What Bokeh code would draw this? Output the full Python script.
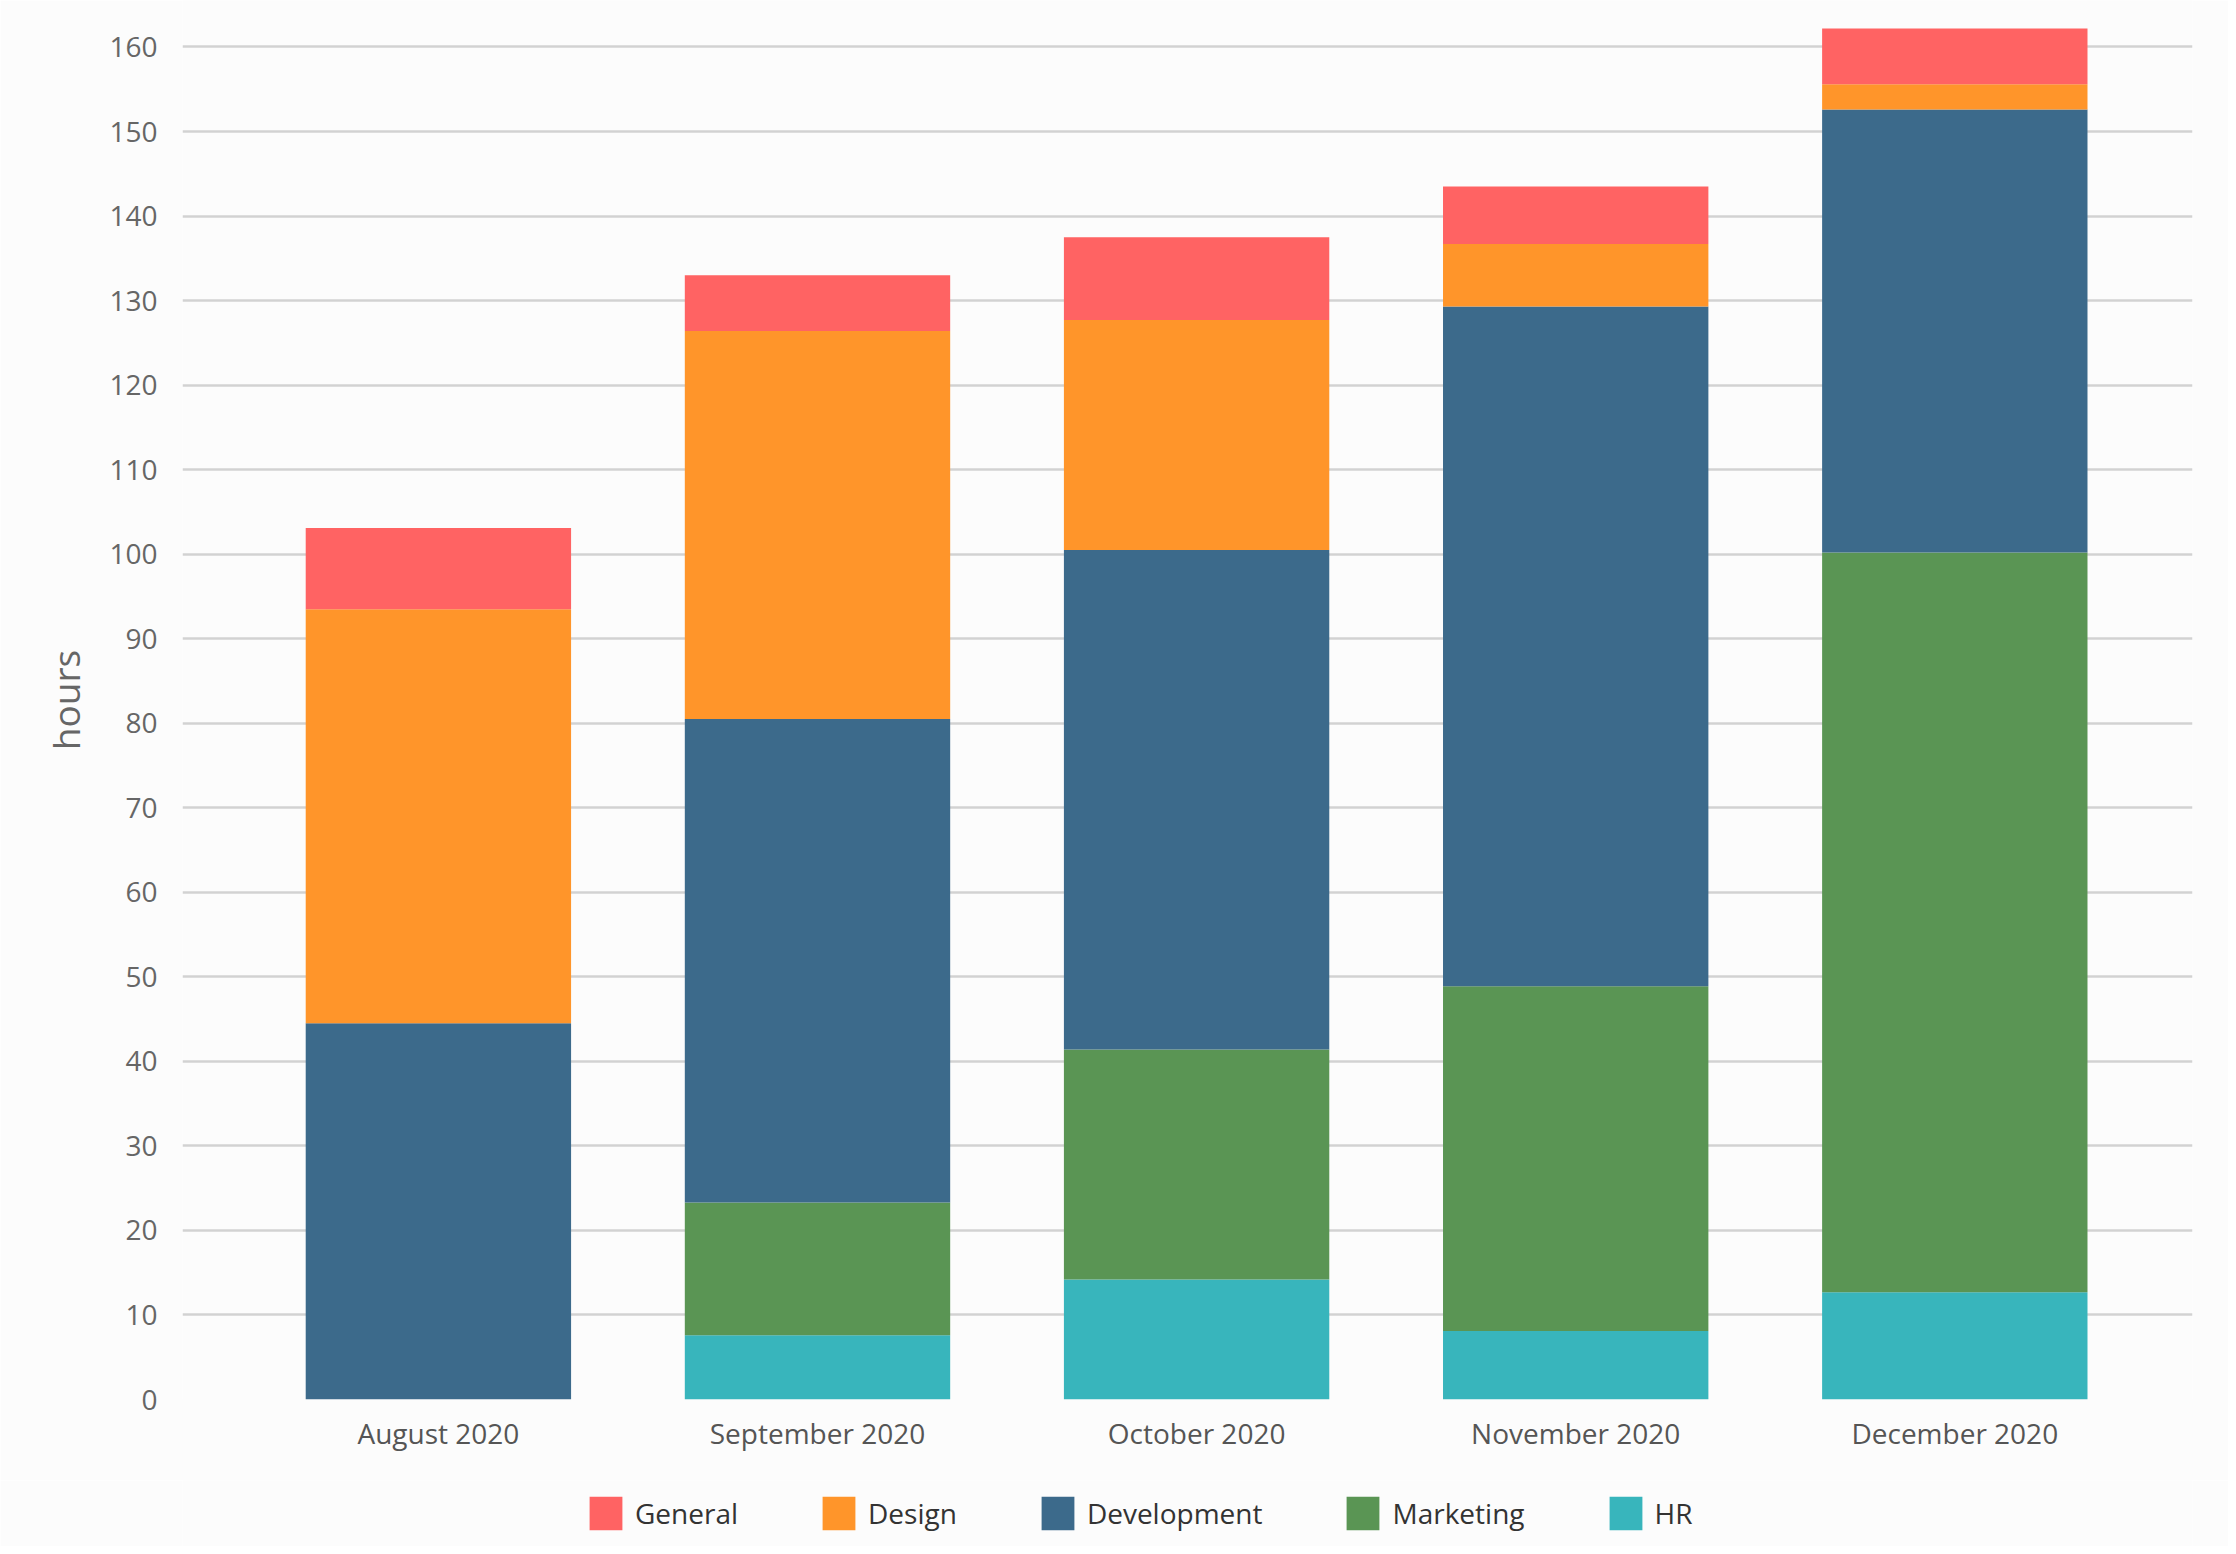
from bokeh.plotting import figure
from bokeh.layouts import column
from bokeh.models import Range1d, FixedTicker, Legend, LegendItem, ColumnDataSource
from bokeh.embed import file_html
from bokeh.resources import INLINE

months = ["August 2020", "September 2020", "October 2020", "November 2020", "December 2020"]
stack_order = ["HR", "Marketing", "Development", "Design", "General"]
legend_order = ["General", "Design", "Development", "Marketing", "HR"]
hr = [0.0, 7.6, 14.2, 8.1, 12.7]
marketing = [0.0, 15.7, 27.2, 40.8, 87.5]
development = [44.5, 57.2, 59.1, 80.4, 52.4]
design = [49.0, 45.9, 27.2, 7.4, 3.0]
general = [9.6, 6.6, 9.8, 6.8, 6.6]
y_ticks = list(range(0, 170, 10))
colors = {
    "General": "#ff6363",
    "Design": "#ff952a",
    "Development": "#3c6a8b",
    "Marketing": "#5a9554",
    "HR": "#38b5bc",
}
BG = "#fcfcfc"

xpos = list(range(len(months)))
source = ColumnDataSource(data=dict(
    x=xpos, HR=hr, Marketing=marketing, Development=development,
    Design=design, General=general,
))

p = figure(
    width=2228, height=1480,
    x_range=Range1d(-0.675, 4.627), y_range=Range1d(0, 165.5),
    output_backend="svg", toolbar_location=None,
    min_border_left=182, min_border_right=36,
    min_border_top=0, min_border_bottom=81,
)
p.background_fill_color = BG
p.border_fill_color = BG
p.outline_line_color = None

p.vbar_stack(
    stack_order, x="x", width=0.7, source=source,
    color=[colors[s] for s in stack_order], line_color=None,
)

p.xgrid.grid_line_color = None
p.ygrid.grid_line_color = "#d2d2d2"
p.ygrid.grid_line_width = 2.5

p.yaxis.ticker = FixedTicker(ticks=y_ticks)
p.xaxis.ticker = FixedTicker(ticks=xpos)
p.xaxis.major_label_overrides = {i: m for i, m in enumerate(months)}

for ax in (p.xaxis, p.yaxis):
    ax.axis_line_color = None
    ax.major_tick_line_color = None
    ax.minor_tick_line_color = None
    ax.major_label_text_font = "Open Sans"
    ax.major_label_text_font_size = "28px"

p.yaxis.major_label_text_color = "#666666"
p.xaxis.major_label_text_color = "#555555"
p.yaxis.major_label_standoff = 19
p.xaxis.major_label_standoff = 8

p.yaxis.axis_label = "hours"
p.yaxis.axis_label_text_font = "Open Sans"
p.yaxis.axis_label_text_font_style = "normal"
p.yaxis.axis_label_text_font_size = "37px"
p.yaxis.axis_label_text_color = "#666666"
p.yaxis.axis_label_standoff = 15

# legend strip below the chart (its renderers sit outside its visible range)
lp = figure(
    width=2228, height=66,
    x_range=Range1d(-0.675, 4.627), y_range=Range1d(1000, 1001),
    output_backend="svg", toolbar_location=None,
    x_axis_location=None, y_axis_location=None,
    min_border=0,
)
lp.background_fill_color = BG
lp.border_fill_color = BG
lp.outline_line_color = None
lp.grid.visible = False

items = []
for s in legend_order:
    r = lp.vbar(x="x", top=s, width=0.7, source=source, color=colors[s], line_color=None)
    items.append(LegendItem(label=s, renderers=[r]))

legend = Legend(
    items=items, orientation="horizontal", location="center_left",
    glyph_width=41, glyph_height=42, label_standoff=9, spacing=80,
    label_text_font="Open Sans", label_text_font_size="28px",
    label_text_color="#333333", border_line_color=None,
    background_fill_alpha=0, padding=0, margin=403,
)
lp.add_layout(legend, "center")

layout = column(p, lp, spacing=0)
open("out.html", "w").write(file_html(layout, INLINE))
